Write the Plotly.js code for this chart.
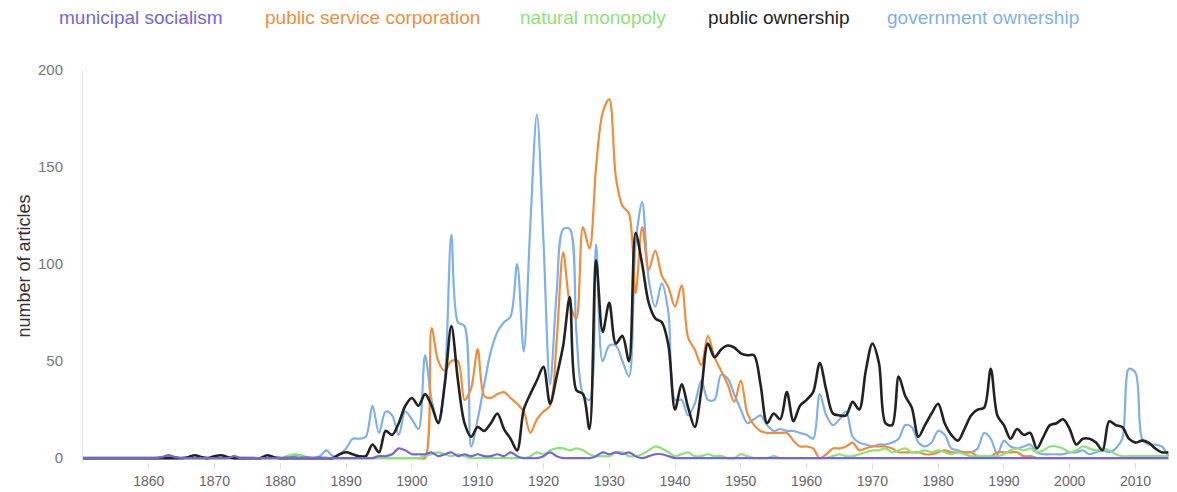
<!DOCTYPE html>
<html>
<head>
<meta charset="utf-8">
<script src="https://cdn.plot.ly/plotly-3.0.1.min.js"></script>
<style>html,body{margin:0;padding:0;background:#fff;}#chart{width:1177px;height:492px;}</style>
</head>
<body>
<div id="chart"></div>
<script>
const startYear = 1850, endYear = 2015;
const years = [];
for (let y = startYear; y <= endYear; y++) years.push(y);

const seriesNames = ["municipal socialism","public service corporation","natural monopoly","public ownership","government ownership"];
const xTicks = [1860,1870,1880,1890,1900,1910,1920,1930,1940,1950,1960,1970,1980,1990,2000,2010];
const yTicks = [0,50,100,150,200];

// values per year 1850..2015
const municipalSocialism = [
 0,0,0,0,0,0,0,0,0,0,
 0,0,0.5,1.5,0.5,0,0,0,0,0,
 0,0,0,1,0,0,0,0,0,0,
 0,0,0,0,0,0,0,0,0,0,
 0,0,0,0,0,1,1,2,5,4,
 2,2,2,3,1,2,3,1,2,1,
 2,1,1,2,1,3,1,0,0,0,
 1,3,1,0,0,0,0,0,1,3,
 2,3,2,3,1,0,1,2,2,1,
 0,0,0,0,0,0,0,0,0,0,
 0,0,0,0,0,0,0,0,0,0,
 0,0,0,0,0,0,0,0,0,0,
 0,0,0,0,0,0,0,0,0,0,
 0,0,0,0,0,0,0,0,0,0,
 0,0,0,0,0,0,0,0,0,0,
 0,0,0,0,0,0,0,0,0,0,
 0,0,0,0,0,0
];
const publicServiceCorporation = [
 0,0,0,0,0,0,0,0,0,0,
 0,0,0,0,0,0,0,0,0,0,
 0,0,0,0,0,0,0,0,0,0,
 0,0,0,0,0,0,0,0,0,0,
 0,0,0,0,0,0,0,0,0,0,
 0,0,0,67,50,45,50,50,30,36,
 56,32,31,33,34,31,28,24,13,20,
 24,27,60,106,80,72,119,108,150,178,
 185,145,130,126,85,119,97,107,94,88,
 78,89,62,56,48,63,52,45,38,29,
 40,23,17,14,13,13,13,13,9,6,
 6,5,0,2,5,5,6,8,4,5,
 6,6,6,5,3,3,3,3,2,2,
 3,4,3,3,3,3,1,1,1,3,
 3,3,3,1,1,0,0,0,0,0,
 0,0,0,0,0,0,0,0,0,0,
 0,0,0,0,0,0
];
const naturalMonopoly = [
 0,0,0,0,0,0,0,0,0,0,
 0,0,0,0,0,0,0,0,0,0,
 0,0,0,0,0,0,0,0,0,0,
 0,1,2,1.5,0,0,0,0,0,0,
 0,0,0,0,0,0,0,0,0,0,
 0,0,1,2,3,2,1,2,1,0,
 0,0,0,0,0,0,0,0,1,3,
 2,4,5,5,4,5,4,2,1,1,
 1,3,3,1,1,2,4,6,5,3,
 1,2,3,1,1,2,1,1,0,0,
 2,1,0,0,0,1,0,0,0,0,
 0,0,0,0,1,2,1,1,2,3,
 4,4,5,3,4,5,3,3,4,3,
 4,3,2,3,2,1,1,1,1,1,
 2,4,5,4,5,3,4,6,6,5,
 3,4,6,5,4,5,4,2,1,1,
 1,1,1,1,1,1
];
const publicOwnership = [
 0,0,0,0,0,0,0,0,0,0,
 0,0,0,0,0,0,0.5,1.5,0.5,0,
 1,1.5,0.5,0,0,0,0,0,1.5,0.5,
 0,0,0,0,0,0,0,0,0,2,
 3,2,1,1,7,3,14,12,18,27,
 31,27,33,27,18,38,68,40,18,11,
 16,14,18,23,15,10,4,25,33,40,
 47,28,42,58,83,35,33,15,102,65,
 80,59,63,50,116,100,80,72,70,58,
 25,38,26,16,35,59,52,56,58,57,
 54,53,53,38,18,23,20,34,19,27,
 30,34,49,35,23,22,22,29,25,45,
 59,49,18,17,42,32,26,11,17,23,
 28,18,12,9,15,22,25,26,46,22,
 17,10,15,12,13,5,11,17,18,20,
 15,7,10,10,8,4,19,17,16,10,
 8,9,8,5,3,3
];
const governmentOwnership = [
 0,0,0,0,0,0,0,0,0,0,
 0,0,0.5,1,0.5,0,0,0,0,0,
 0,0,0,0,0,0,0,0,0,0,
 0,0,1,1.5,0.5,0,1,4,1,2,
 5,10,10,11,27,13,24,22,12,24,
 20,15,53,30,18,40,115,70,68,6,
 20,38,55,65,70,73,100,55,120,177,
 112,38,85,118,118,65,33,30,110,50,
 58,58,50,42,110,132,92,78,90,75,
 30,30,22,28,40,30,30,43,41,33,
 25,18,20,22,17,14,15,14,14,13,
 12,10,33,22,17,20,24,11,8,7,
 6,7,7,8,10,17,16,8,6,8,
 14,12,5,4,3,3,5,13,10,2,
 9,6,5,6,7,3,2,2,2,2,
 3,3,4,2,3,4,3,5,10,46,
 44,10,7,7,6,1
];

const colors = {
  "municipal socialism": "#7366dd",
  "public service corporation": "#f08d3c",
  "natural monopoly": "#8ee276",
  "public ownership": "#222222",
  "government ownership": "#7fb0ea"
};
const valuesByName = {
  "municipal socialism": municipalSocialism,
  "public service corporation": publicServiceCorporation,
  "natural monopoly": naturalMonopoly,
  "public ownership": publicOwnership,
  "government ownership": governmentOwnership
};
const drawOrder = ["government ownership","public service corporation","natural monopoly","public ownership","municipal socialism"];

const traces = drawOrder.map(n => ({
  type: "scatter", mode: "lines", name: n,
  x: years, y: valuesByName[n],
  line: {color: colors[n], width: n === "public ownership" ? 2.6 : 2.2, shape: "spline", smoothing: 0.9},
  hoverinfo: "x+y+name"
}));

const W = 1177, H = 492;
const M = {l: 83, r: 5, t: 70, b: 30};
const pw = W - M.l - M.r, ph = H - M.t - M.b;
const px2paperX = px => (px - M.l) / pw;
const py2paperY = py => 1 - (py - M.t) / ph;

const legendX = [57, 263, 518, 706, 885];
const annotations = seriesNames.map((n, i) => ({
  xref: "paper", yref: "paper",
  x: px2paperX(legendX[i]), y: py2paperY(18),
  xanchor: "left", yanchor: "middle",
  text: n, showarrow: false,
  font: {family: "Liberation Sans, Arial, sans-serif", size: 19, color: colors[n]}
}));

const layout = {
  width: W, height: H,
  margin: M,
  paper_bgcolor: "#fff", plot_bgcolor: "#fff",
  showlegend: false,
  font: {family: "Liberation Sans, Arial, sans-serif", color: "#666"},
  xaxis: {
    range: [1850, 1850 + pw / 6.578],
    tickvals: xTicks, ticktext: xTicks.map(String),
    ticks: "outside", ticklen: 6, tickcolor: "#ddd", tickwidth: 1,
    showgrid: false, zeroline: false, showline: false,
    tickfont: {size: 14, color: "#666"}
  },
  yaxis: {
    range: [-2, 200],
    tickvals: yTicks, ticktext: yTicks.map(String),
    showgrid: false, zeroline: false,
    showline: true, linecolor: "#e2e2e2", linewidth: 1,
    ticks: "", ticklabelstandoff: 16,
    tickfont: {size: 15, color: "#777"},
    title: {text: "number of articles", font: {size: 18, color: "#333"}, standoff: 2}
  },
  annotations: annotations
};

Plotly.newPlot("chart", traces, layout, {displayModeBar: false, staticPlot: true});
</script>
</body>
</html>
